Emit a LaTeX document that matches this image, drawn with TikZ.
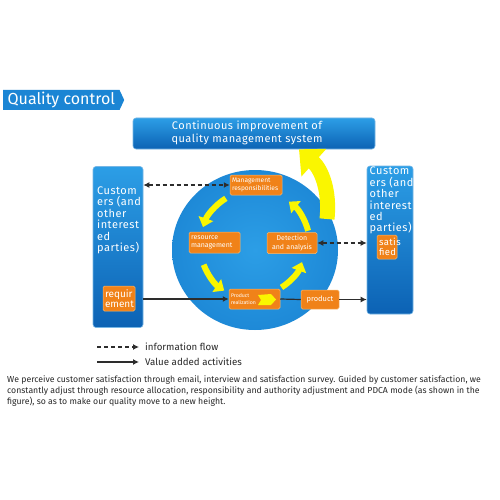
\documentclass[tikz,border=0pt]{standalone}
\usepackage{fontspec}
\setmainfont{Fira Sans}
\newfontfamily\spacedfont[LetterSpace=4.5]{Fira Sans}
\usepackage{tikz}
\usetikzlibrary{arrows.meta,shapes.symbols,shapes.geometric}

\definecolor{qcblue}{RGB}{27,133,212}
\definecolor{qcbluedark}{RGB}{12,98,180}
\definecolor{qcbluelight}{RGB}{44,158,230}
\definecolor{qcorange}{RGB}{240,130,25}
\definecolor{qcorangeedge}{RGB}{250,185,110}
\definecolor{qcyellow}{RGB}{250,246,0}
\definecolor{qcgray}{RGB}{45,45,45}
\definecolor{qctext}{RGB}{40,40,40}

\pgfdeclareradialshading{ballshade}{\pgfpoint{0bp}{0bp}}{color(0bp)=(qcbluelight); color(30bp)=(qcblue); color(50bp)=(qcbluedark)}

\begin{document}
\begin{tikzpicture}[x=1pt,y=-1pt,
  bluebox/.style={rounded corners=3pt, top color=qcbluelight, bottom color=qcbluedark, draw=qcblue!60!white, line width=0.6pt, inner sep=0pt},
  orangebox/.style={rounded corners=1.5pt, fill=qcorange, draw=qcorangeedge, line width=0.5pt, text=white, align=left, inner xsep=2pt, inner ysep=1pt},
  infoflow/.style={qcgray, dash pattern=on 4pt off 3pt, line width=1.2pt},
  valueflow/.style={qcgray, line width=1.2pt},
  cycarrow/.style={qcyellow, line width=6pt, -{Triangle[length=9pt,width=15pt]}},
  bigarrow/.style={qcyellow, line width=15pt, -{Triangle[length=20pt,width=36pt]}},
  boxtext/.style={anchor=north west, text=white, align=left, inner sep=0pt, font=\spacedfont\fontsize{11}{11.4}\selectfont}]

\useasboundingbox[fill=white] (0,0) rectangle (500,500);

% title and top box
\node(title)[signal, signal to=east, signal pointer angle=130, fill=qcblue, text=white,
  minimum width=121, minimum height=20, inner sep=0pt, anchor=west, font=\fontsize{16}{16}\selectfont] at (3,100) {Quality control};

\node(cims)[bluebox, minimum width=242, minimum height=31] at (254,133.5) {};
\node(cimstext)[text=white, align=center, inner sep=0pt, font=\spacedfont\fontsize{11}{12.5}\selectfont] at (247,133) {Continuous improvement of\\quality management system};

% the cycle
\node(cyc)[ellipse, minimum width=166, minimum height=160, inner sep=0pt, shading=ballshade] at (255,250) {};
\coordinate(hub) at (255,245);

% customers
\node(custL)[bluebox, minimum width=50, minimum height=161] at (118,247) {};
\node(custLtext)[boxtext] at (97,186.5) {Custom\\ers (and\\other\\interest\\ed\\parties)};
\node(req)[orangebox, text width=28, minimum height=25, font=\fontsize{10}{10.5}\selectfont] at (119,298.5) {requir\\ement};

\node(custR)[bluebox, minimum width=46, minimum height=148] at (390,240) {};
\node(custRtext)[boxtext] at (369.5,167) {Custom\\ers (and\\other\\interest\\ed\\parties)};
\node(sat)[orangebox, text width=16, minimum height=24, font=\spacedfont\fontsize{9.5}{10}\selectfont] at (387,247) {satis\\fied};

% process boxes
\node(mgmt)[orangebox, text width=48, minimum height=20, font=\fontsize{6.6}{7.5}\selectfont] at (256,185) {Management\\responsibilities};
\node(res)[orangebox, text width=47, minimum height=21, font=\fontsize{7}{8.5}\selectfont] at (214.5,242.5) {resource\\management};
\node(det)[orangebox, text width=46, minimum height=21, align=center, font=\fontsize{7}{8.5}\selectfont] at (292,243) {Detection\\and analysis};
\node(prod)[orangebox, text width=47, minimum height=20, font=\fontsize{5.2}{7}\selectfont] at (254.5,299) {Product\\realization};
\node(product)[orangebox, minimum width=38, minimum height=19, align=center, font=\fontsize{7.5}{8}\selectfont] at (320,299.5) {product};

\fill[qcyellow] (258,295) -- (271,294) -- (276,299.5) -- (271,305) -- (258,305) -- (261,300) -- cycle;

% yellow cycle arrows
\draw[cycarrow] (hub) ++(238:55) arc[start angle=238, end angle=199, radius=55];
\draw[cycarrow] (hub) ++(159:55) arc[start angle=159, end angle=124, radius=55];
\draw[cycarrow] (hub) ++(58:50) arc[start angle=58, end angle=20, radius=50];
\draw[cycarrow] (hub) ++(-15:55) arc[start angle=-15, end angle=-52, radius=55];

\draw[bigarrow] (327,219) .. controls (330,192) and (322,170) .. (cims.south -| 299,0);

% flows
\draw[infoflow, {Latex[length=6pt,width=6pt]}-{Latex[length=6pt,width=6pt]}] (mgmt.west -| custL.east) -- (mgmt.west);
\draw[infoflow, {Latex[length=6pt,width=6pt]}-{Latex[length=6pt,width=6pt]}] (det.east) -- (det.east -| custR.west);
\draw[valueflow, -{Latex[length=6pt,width=6pt]}] (prod.west -| custL.east) -- (prod.west);
\draw[valueflow] (prod.east) -- (product.west);
\draw[valueflow, -{Latex[length=6pt,width=6pt]}] (product.east) -- (product.east -| custR.west);

% legend
\node(infolabel)[anchor=west, text=qctext, inner sep=0pt, font=\fontsize{9.7}{10}\selectfont] at (145,347) {information flow};
\node(valuelabel)[anchor=west, text=qctext, inner sep=0pt, font=\fontsize{9.7}{10}\selectfont] at (145,362) {Value added activities};
\coordinate(infostart) at (97,347);
\coordinate(valuestart) at (97,362);
\draw[infoflow, -{Latex[length=6pt,width=6pt]}] (infostart) -- ([xshift=-6pt]infolabel.west);
\draw[valueflow, -{Latex[length=6pt,width=6pt]}] (valuestart) -- ([xshift=-6pt]valuelabel.west);

\node(caption)[anchor=north west, align=left, text=qctext, inner sep=0pt, font=\fontsize{8.7}{11}\selectfont] at (7,375.5) {We perceive customer satisfaction through email, interview and satisfaction survey. Guided by customer satisfaction, we\\constantly adjust through resource allocation, responsibility and authority adjustment and PDCA mode (as shown in the\\figure), so as to make our quality move to a new height.};

\end{tikzpicture}
\end{document}
